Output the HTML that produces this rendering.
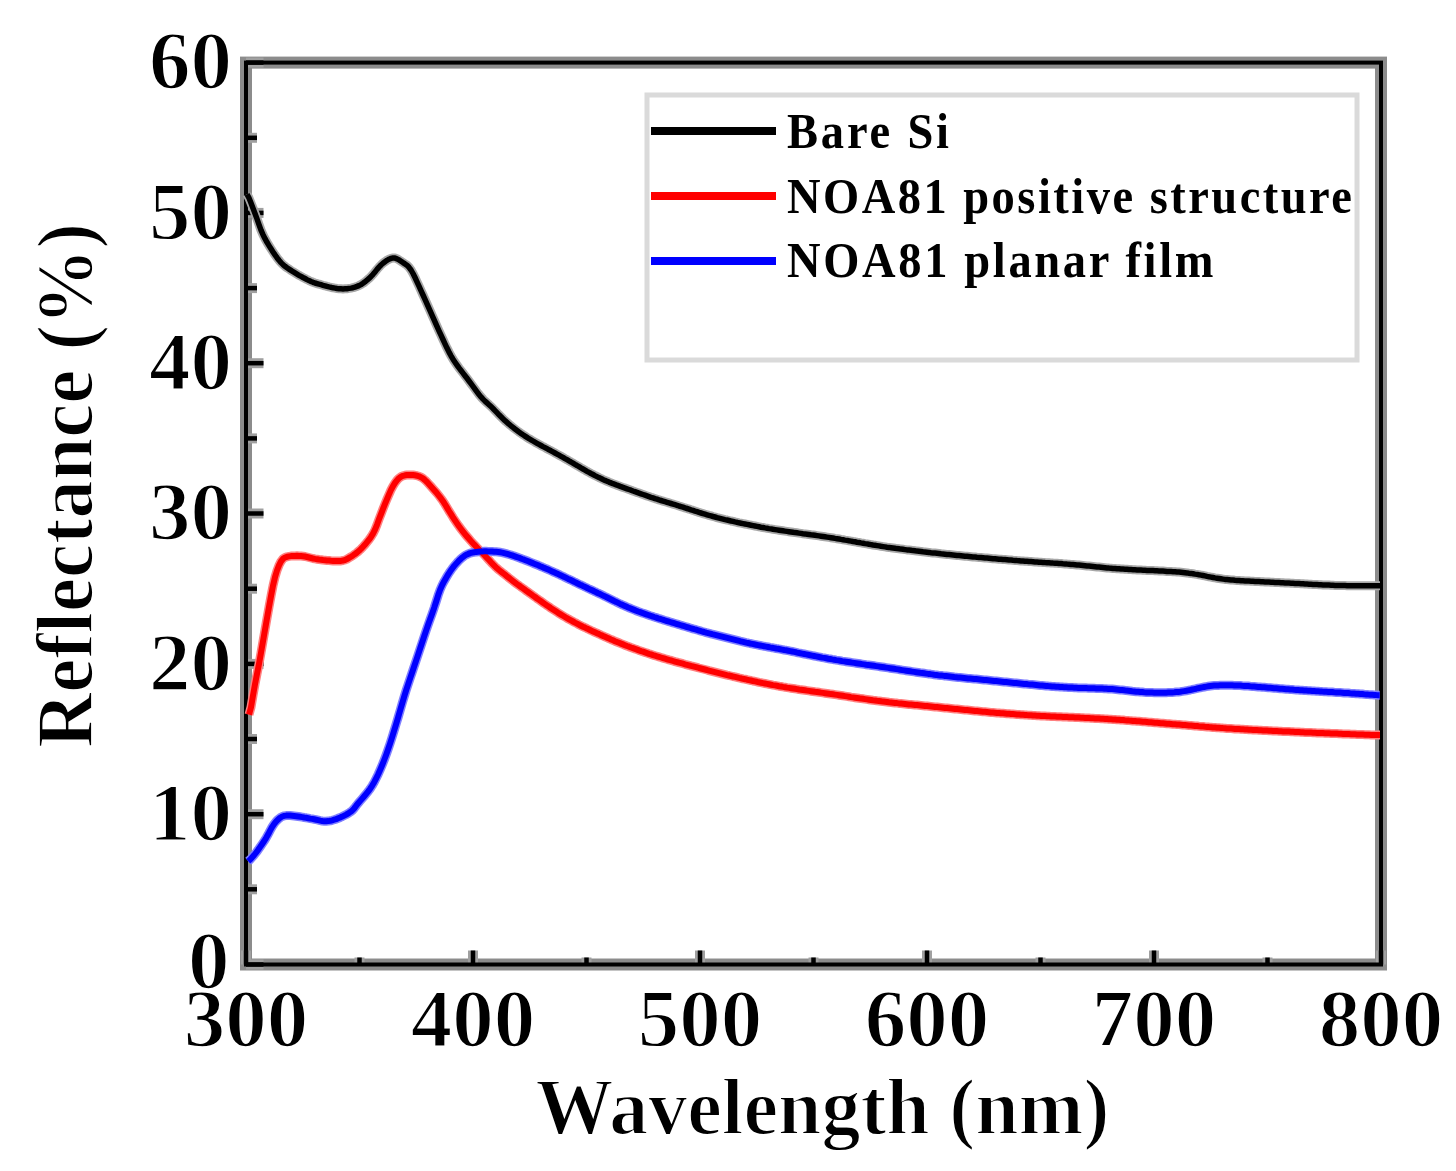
<!DOCTYPE html>
<html><head><meta charset="utf-8"><style>
html,body{margin:0;padding:0;background:#fff;}
body{width:1456px;height:1171px;overflow:hidden;}
svg{display:block;}
text{font-family:"Liberation Serif",serif;font-weight:bold;fill:#000;font-variant-ligatures:none;}
.lg text{font-weight:normal;}
</style></head><body>
<svg width="1456" height="1171" viewBox="0 0 1456 1171">
<rect x="0" y="0" width="1456" height="1171" fill="#fff"/>
<g fill="none" stroke="#8c8c8c" stroke-width="12" stroke-linecap="square"><rect x="246.0" y="62.6" width="1135.0" height="901.9"/></g>
<g stroke="#a0a0a0" stroke-width="10"><line x1="246.0" y1="964.5" x2="246.0" y2="950.5"/><line x1="359.5" y1="964.5" x2="359.5" y2="957.5"/><line x1="473.0" y1="964.5" x2="473.0" y2="950.5"/><line x1="586.5" y1="964.5" x2="586.5" y2="957.5"/><line x1="700.0" y1="964.5" x2="700.0" y2="950.5"/><line x1="813.5" y1="964.5" x2="813.5" y2="957.5"/><line x1="927.0" y1="964.5" x2="927.0" y2="950.5"/><line x1="1040.5" y1="964.5" x2="1040.5" y2="957.5"/><line x1="1154.0" y1="964.5" x2="1154.0" y2="950.5"/><line x1="1267.5" y1="964.5" x2="1267.5" y2="957.5"/><line x1="1381.0" y1="964.5" x2="1381.0" y2="950.5"/><line x1="246.0" y1="964.5" x2="263.5" y2="964.5"/><line x1="246.0" y1="889.3" x2="257.0" y2="889.3"/><line x1="246.0" y1="814.2" x2="263.5" y2="814.2"/><line x1="246.0" y1="739.0" x2="257.0" y2="739.0"/><line x1="246.0" y1="663.9" x2="263.5" y2="663.9"/><line x1="246.0" y1="588.7" x2="257.0" y2="588.7"/><line x1="246.0" y1="513.5" x2="263.5" y2="513.5"/><line x1="246.0" y1="438.4" x2="257.0" y2="438.4"/><line x1="246.0" y1="363.2" x2="263.5" y2="363.2"/><line x1="246.0" y1="288.1" x2="257.0" y2="288.1"/><line x1="246.0" y1="212.9" x2="263.5" y2="212.9"/><line x1="246.0" y1="137.8" x2="257.0" y2="137.8"/><line x1="246.0" y1="62.6" x2="263.5" y2="62.6"/></g>

<g fill="none" stroke="#000" stroke-width="4" stroke-linecap="square"><rect x="246.0" y="62.6" width="1135.0" height="901.9"/></g>
<g stroke="#000" stroke-width="4.5"><line x1="246.0" y1="964.5" x2="246.0" y2="950.5"/><line x1="359.5" y1="964.5" x2="359.5" y2="957.5"/><line x1="473.0" y1="964.5" x2="473.0" y2="950.5"/><line x1="586.5" y1="964.5" x2="586.5" y2="957.5"/><line x1="700.0" y1="964.5" x2="700.0" y2="950.5"/><line x1="813.5" y1="964.5" x2="813.5" y2="957.5"/><line x1="927.0" y1="964.5" x2="927.0" y2="950.5"/><line x1="1040.5" y1="964.5" x2="1040.5" y2="957.5"/><line x1="1154.0" y1="964.5" x2="1154.0" y2="950.5"/><line x1="1267.5" y1="964.5" x2="1267.5" y2="957.5"/><line x1="1381.0" y1="964.5" x2="1381.0" y2="950.5"/><line x1="246.0" y1="964.5" x2="263.5" y2="964.5"/><line x1="246.0" y1="889.3" x2="257.0" y2="889.3"/><line x1="246.0" y1="814.2" x2="263.5" y2="814.2"/><line x1="246.0" y1="739.0" x2="257.0" y2="739.0"/><line x1="246.0" y1="663.9" x2="263.5" y2="663.9"/><line x1="246.0" y1="588.7" x2="257.0" y2="588.7"/><line x1="246.0" y1="513.5" x2="263.5" y2="513.5"/><line x1="246.0" y1="438.4" x2="257.0" y2="438.4"/><line x1="246.0" y1="363.2" x2="263.5" y2="363.2"/><line x1="246.0" y1="288.1" x2="257.0" y2="288.1"/><line x1="246.0" y1="212.9" x2="263.5" y2="212.9"/><line x1="246.0" y1="137.8" x2="257.0" y2="137.8"/><line x1="246.0" y1="62.6" x2="263.5" y2="62.6"/></g>
<g fill="none" stroke-linejoin="round" stroke-linecap="butt">
<path stroke="#a8a8a8" stroke-width="9" d="M247.0 194.2 L249.0 198.1 L251.0 203.1 L253.0 208.2 L255.0 213.4 L257.0 218.9 L259.0 224.6 L261.0 230.1 L263.0 234.7 L265.0 238.7 L267.0 242.3 L269.0 245.6 L271.0 248.8 L273.0 251.9 L275.0 254.9 L277.0 257.7 L279.0 260.3 L281.0 262.6 L283.0 264.6 L285.0 266.3 L287.0 267.8 L289.0 269.1 L291.0 270.4 L293.0 271.7 L295.0 272.9 L297.0 274.1 L299.0 275.3 L301.0 276.4 L303.0 277.5 L305.0 278.5 L307.0 279.6 L309.0 280.6 L311.0 281.5 L313.0 282.3 L315.0 283.0 L317.0 283.6 L319.0 284.2 L321.0 284.7 L323.0 285.3 L325.0 285.8 L327.0 286.4 L329.0 286.9 L331.0 287.3 L333.0 287.8 L335.0 288.1 L337.0 288.5 L339.0 288.7 L341.0 288.8 L343.0 288.9 L345.0 288.8 L347.0 288.7 L349.0 288.4 L351.0 288.1 L353.0 287.7 L355.0 287.1 L357.0 286.4 L359.0 285.6 L361.0 284.6 L363.0 283.3 L365.0 281.8 L367.0 280.2 L369.0 278.4 L371.0 276.5 L373.0 274.3 L375.0 271.9 L377.0 269.4 L379.0 267.1 L381.0 265.0 L383.0 263.2 L385.0 261.7 L387.0 260.3 L389.0 259.2 L391.0 258.4 L393.0 258.0 L395.0 258.1 L397.0 258.8 L399.0 259.9 L401.0 261.2 L403.0 262.6 L405.0 263.9 L407.0 265.3 L409.0 267.3 L411.0 270.0 L413.0 273.5 L415.0 277.5 L417.0 281.8 L419.0 286.2 L421.0 290.7 L423.0 295.0 L425.0 299.4 L427.0 303.9 L429.0 308.4 L431.0 312.8 L433.0 317.3 L435.0 321.8 L437.0 326.4 L439.0 330.8 L441.0 335.2 L443.0 339.5 L445.0 343.8 L447.0 348.1 L449.0 352.1 L451.0 355.8 L453.0 359.2 L455.0 362.2 L457.0 365.1 L459.0 367.9 L461.0 370.5 L463.0 373.1 L465.0 375.7 L467.0 378.3 L469.0 381.0 L471.0 383.7 L473.0 386.4 L475.0 389.2 L477.0 391.9 L479.0 394.5 L481.0 396.9 L483.0 399.1 L485.0 401.1 L487.0 402.9 L489.0 404.7 L491.0 406.6 L493.0 408.5 L495.0 410.6 L497.0 412.7 L499.0 414.8 L501.0 416.8 L503.0 418.8 L505.0 420.7 L507.0 422.4 L509.0 424.2 L511.0 425.8 L513.0 427.4 L515.0 429.0 L517.0 430.5 L519.0 432.0 L521.0 433.4 L523.0 434.8 L525.0 436.1 L527.0 437.4 L529.0 438.7 L531.0 439.8 L533.0 441.0 L535.0 442.2 L537.0 443.3 L539.0 444.4 L541.0 445.5 L543.0 446.6 L545.0 447.6 L547.0 448.7 L549.0 449.8 L551.0 450.8 L553.0 451.9 L555.0 453.0 L557.0 454.1 L559.0 455.2 L561.0 456.3 L563.0 457.4 L565.0 458.6 L567.0 459.7 L569.0 460.9 L571.0 462.0 L573.0 463.2 L575.0 464.4 L577.0 465.5 L579.0 466.7 L581.0 467.9 L583.0 469.0 L585.0 470.1 L587.0 471.3 L589.0 472.4 L591.0 473.5 L593.0 474.5 L595.0 475.6 L597.0 476.6 L599.0 477.6 L601.0 478.5 L603.0 479.5 L605.0 480.4 L607.0 481.2 L609.0 482.1 L611.0 482.9 L613.0 483.7 L615.0 484.4 L617.0 485.2 L619.0 485.9 L621.0 486.7 L623.0 487.4 L625.0 488.1 L627.0 488.8 L629.0 489.5 L631.0 490.2 L633.0 491.0 L635.0 491.7 L637.0 492.4 L639.0 493.1 L641.0 493.8 L643.0 494.5 L645.0 495.2 L647.0 495.9 L649.0 496.6 L651.0 497.3 L653.0 497.9 L655.0 498.6 L657.0 499.2 L659.0 499.9 L661.0 500.5 L663.0 501.1 L665.0 501.7 L667.0 502.3 L669.0 502.9 L671.0 503.5 L673.0 504.1 L675.0 504.7 L677.0 505.3 L679.0 506.0 L681.0 506.6 L683.0 507.2 L685.0 507.9 L687.0 508.5 L689.0 509.1 L691.0 509.8 L693.0 510.4 L695.0 511.1 L697.0 511.7 L699.0 512.4 L701.0 513.0 L703.0 513.6 L705.0 514.2 L707.0 514.8 L709.0 515.4 L711.0 515.9 L713.0 516.5 L715.0 517.0 L717.0 517.6 L719.0 518.1 L721.0 518.6 L723.0 519.1 L725.0 519.6 L727.0 520.0 L729.0 520.5 L731.0 521.0 L733.0 521.4 L735.0 521.9 L737.0 522.3 L739.0 522.8 L741.0 523.2 L743.0 523.6 L745.0 524.0 L747.0 524.4 L749.0 524.8 L751.0 525.2 L753.0 525.6 L755.0 526.0 L757.0 526.4 L759.0 526.8 L761.0 527.2 L763.0 527.5 L765.0 527.9 L767.0 528.2 L769.0 528.6 L771.0 528.9 L773.0 529.3 L775.0 529.6 L777.0 529.9 L779.0 530.2 L781.0 530.5 L783.0 530.8 L785.0 531.1 L787.0 531.4 L789.0 531.7 L791.0 532.0 L793.0 532.3 L795.0 532.6 L797.0 532.8 L799.0 533.1 L801.0 533.4 L803.0 533.7 L805.0 533.9 L807.0 534.2 L809.0 534.5 L811.0 534.8 L813.0 535.0 L815.0 535.3 L817.0 535.6 L819.0 535.9 L821.0 536.2 L823.0 536.5 L825.0 536.8 L827.0 537.1 L829.0 537.4 L831.0 537.7 L833.0 538.0 L835.0 538.4 L837.0 538.7 L839.0 539.0 L841.0 539.4 L843.0 539.7 L845.0 540.1 L847.0 540.4 L849.0 540.8 L851.0 541.1 L853.0 541.5 L855.0 541.8 L857.0 542.2 L859.0 542.5 L861.0 542.9 L863.0 543.2 L865.0 543.6 L867.0 543.9 L869.0 544.3 L871.0 544.6 L873.0 545.0 L875.0 545.3 L877.0 545.6 L879.0 545.9 L881.0 546.3 L883.0 546.6 L885.0 546.9 L887.0 547.2 L889.0 547.4 L891.0 547.7 L893.0 548.0 L895.0 548.3 L897.0 548.6 L899.0 548.8 L901.0 549.1 L903.0 549.3 L905.0 549.6 L907.0 549.9 L909.0 550.1 L911.0 550.3 L913.0 550.6 L915.0 550.8 L917.0 551.1 L919.0 551.3 L921.0 551.5 L923.0 551.8 L925.0 552.0 L927.0 552.2 L929.0 552.4 L931.0 552.7 L933.0 552.9 L935.0 553.1 L937.0 553.3 L939.0 553.5 L941.0 553.8 L943.0 554.0 L945.0 554.2 L947.0 554.4 L949.0 554.6 L951.0 554.8 L953.0 555.0 L955.0 555.2 L957.0 555.4 L959.0 555.6 L961.0 555.8 L963.0 556.0 L965.0 556.2 L967.0 556.3 L969.0 556.5 L971.0 556.7 L973.0 556.9 L975.0 557.1 L977.0 557.3 L979.0 557.4 L981.0 557.6 L983.0 557.8 L985.0 558.0 L987.0 558.1 L989.0 558.3 L991.0 558.5 L993.0 558.7 L995.0 558.8 L997.0 559.0 L999.0 559.2 L1001.0 559.3 L1003.0 559.5 L1005.0 559.6 L1007.0 559.8 L1009.0 560.0 L1011.0 560.1 L1013.0 560.3 L1015.0 560.4 L1017.0 560.6 L1019.0 560.7 L1021.0 560.9 L1023.0 561.0 L1025.0 561.2 L1027.0 561.3 L1029.0 561.5 L1031.0 561.6 L1033.0 561.7 L1035.0 561.9 L1037.0 562.0 L1039.0 562.2 L1041.0 562.3 L1043.0 562.4 L1045.0 562.6 L1047.0 562.7 L1049.0 562.8 L1051.0 562.9 L1053.0 563.1 L1055.0 563.2 L1057.0 563.3 L1059.0 563.5 L1061.0 563.6 L1063.0 563.8 L1065.0 563.9 L1067.0 564.1 L1069.0 564.2 L1071.0 564.4 L1073.0 564.6 L1075.0 564.8 L1077.0 565.0 L1079.0 565.1 L1081.0 565.3 L1083.0 565.5 L1085.0 565.7 L1087.0 565.9 L1089.0 566.1 L1091.0 566.3 L1093.0 566.5 L1095.0 566.7 L1097.0 566.9 L1099.0 567.1 L1101.0 567.3 L1103.0 567.5 L1105.0 567.7 L1107.0 567.9 L1109.0 568.1 L1111.0 568.2 L1113.0 568.4 L1115.0 568.5 L1117.0 568.7 L1119.0 568.8 L1121.0 569.0 L1123.0 569.1 L1125.0 569.2 L1127.0 569.3 L1129.0 569.5 L1131.0 569.6 L1133.0 569.7 L1135.0 569.8 L1137.0 569.9 L1139.0 570.0 L1141.0 570.1 L1143.0 570.2 L1145.0 570.3 L1147.0 570.4 L1149.0 570.4 L1151.0 570.5 L1153.0 570.6 L1155.0 570.7 L1157.0 570.8 L1159.0 570.9 L1161.0 571.0 L1163.0 571.1 L1165.0 571.2 L1167.0 571.4 L1169.0 571.5 L1171.0 571.6 L1173.0 571.7 L1175.0 571.8 L1177.0 572.0 L1179.0 572.1 L1181.0 572.3 L1183.0 572.5 L1185.0 572.7 L1187.0 572.9 L1189.0 573.2 L1191.0 573.4 L1193.0 573.7 L1195.0 574.1 L1197.0 574.4 L1199.0 574.8 L1201.0 575.1 L1203.0 575.5 L1205.0 575.9 L1207.0 576.4 L1209.0 576.8 L1211.0 577.1 L1213.0 577.5 L1215.0 577.9 L1217.0 578.2 L1219.0 578.5 L1221.0 578.8 L1223.0 579.1 L1225.0 579.4 L1227.0 579.6 L1229.0 579.8 L1231.0 580.0 L1233.0 580.1 L1235.0 580.3 L1237.0 580.4 L1239.0 580.5 L1241.0 580.7 L1243.0 580.8 L1245.0 580.9 L1247.0 581.0 L1249.0 581.1 L1251.0 581.2 L1253.0 581.3 L1255.0 581.4 L1257.0 581.5 L1259.0 581.6 L1261.0 581.7 L1263.0 581.8 L1265.0 581.9 L1267.0 582.0 L1269.0 582.1 L1271.0 582.2 L1273.0 582.3 L1275.0 582.4 L1277.0 582.5 L1279.0 582.6 L1281.0 582.7 L1283.0 582.8 L1285.0 582.9 L1287.0 583.0 L1289.0 583.1 L1291.0 583.2 L1293.0 583.3 L1295.0 583.4 L1297.0 583.5 L1299.0 583.6 L1301.0 583.7 L1303.0 583.8 L1305.0 584.0 L1307.0 584.1 L1309.0 584.2 L1311.0 584.3 L1313.0 584.4 L1315.0 584.5 L1317.0 584.6 L1319.0 584.7 L1321.0 584.8 L1323.0 584.9 L1325.0 585.0 L1327.0 585.0 L1329.0 585.1 L1331.0 585.2 L1333.0 585.3 L1335.0 585.4 L1337.0 585.4 L1339.0 585.5 L1341.0 585.5 L1343.0 585.6 L1345.0 585.6 L1347.0 585.7 L1349.0 585.7 L1351.0 585.7 L1353.0 585.8 L1355.0 585.8 L1357.0 585.8 L1359.0 585.8 L1361.0 585.8 L1363.0 585.8 L1365.0 585.8 L1367.0 585.8 L1369.0 585.8 L1371.0 585.8 L1373.0 585.8 L1375.0 585.8 L1377.0 585.7 L1379.0 585.7 L1380.0 585.7"/>
<path stroke="#ff8080" stroke-width="9" d="M249.0 714.6 L251.0 707.3 L253.0 695.6 L255.0 684.2 L257.0 674.0 L259.0 663.8 L261.0 652.8 L263.0 641.3 L265.0 629.7 L267.0 618.3 L269.0 607.0 L271.0 596.1 L273.0 585.8 L275.0 577.2 L277.0 570.5 L279.0 565.3 L281.0 561.4 L283.0 558.8 L285.0 557.5 L287.0 556.8 L289.0 556.4 L291.0 556.1 L293.0 555.9 L295.0 555.9 L297.0 555.8 L299.0 555.9 L301.0 556.0 L303.0 556.2 L305.0 556.5 L307.0 557.0 L309.0 557.5 L311.0 558.0 L313.0 558.5 L315.0 558.9 L317.0 559.2 L319.0 559.5 L321.0 559.7 L323.0 560.0 L325.0 560.2 L327.0 560.4 L329.0 560.6 L331.0 560.8 L333.0 560.9 L335.0 561.0 L337.0 561.1 L339.0 561.0 L341.0 560.9 L343.0 560.5 L345.0 560.0 L347.0 559.1 L349.0 557.9 L351.0 556.7 L353.0 555.4 L355.0 554.0 L357.0 552.5 L359.0 550.8 L361.0 548.9 L363.0 546.8 L365.0 544.6 L367.0 542.2 L369.0 539.7 L371.0 536.9 L373.0 533.7 L375.0 529.7 L377.0 524.8 L379.0 519.3 L381.0 514.1 L383.0 508.9 L385.0 503.9 L387.0 499.1 L389.0 494.4 L391.0 489.9 L393.0 486.1 L395.0 482.9 L397.0 480.2 L399.0 478.1 L401.0 476.7 L403.0 475.8 L405.0 475.3 L407.0 475.0 L409.0 474.9 L411.0 475.0 L413.0 475.1 L415.0 475.3 L417.0 475.7 L419.0 476.3 L421.0 477.2 L423.0 478.4 L425.0 480.1 L427.0 482.0 L429.0 484.2 L431.0 486.4 L433.0 488.7 L435.0 491.0 L437.0 493.3 L439.0 495.8 L441.0 498.4 L443.0 501.2 L445.0 504.3 L447.0 507.6 L449.0 511.0 L451.0 514.2 L453.0 517.4 L455.0 520.4 L457.0 523.4 L459.0 526.3 L461.0 529.0 L463.0 531.6 L465.0 534.1 L467.0 536.5 L469.0 538.8 L471.0 541.1 L473.0 543.3 L475.0 545.4 L477.0 547.5 L479.0 549.6 L481.0 551.6 L483.0 553.6 L485.0 555.7 L487.0 557.9 L489.0 560.1 L491.0 562.3 L493.0 564.4 L495.0 566.4 L497.0 568.3 L499.0 570.0 L501.0 571.6 L503.0 573.2 L505.0 574.7 L507.0 576.3 L509.0 577.9 L511.0 579.5 L513.0 581.1 L515.0 582.6 L517.0 584.1 L519.0 585.5 L521.0 587.0 L523.0 588.4 L525.0 589.8 L527.0 591.3 L529.0 592.7 L531.0 594.1 L533.0 595.6 L535.0 597.0 L537.0 598.5 L539.0 599.9 L541.0 601.3 L543.0 602.7 L545.0 604.1 L547.0 605.5 L549.0 606.8 L551.0 608.2 L553.0 609.5 L555.0 610.8 L557.0 612.1 L559.0 613.4 L561.0 614.6 L563.0 615.8 L565.0 617.0 L567.0 618.2 L569.0 619.3 L571.0 620.4 L573.0 621.5 L575.0 622.6 L577.0 623.6 L579.0 624.7 L581.0 625.7 L583.0 626.7 L585.0 627.6 L587.0 628.6 L589.0 629.5 L591.0 630.5 L593.0 631.4 L595.0 632.3 L597.0 633.2 L599.0 634.1 L601.0 635.1 L603.0 635.9 L605.0 636.8 L607.0 637.7 L609.0 638.6 L611.0 639.5 L613.0 640.3 L615.0 641.2 L617.0 642.0 L619.0 642.8 L621.0 643.6 L623.0 644.4 L625.0 645.2 L627.0 646.0 L629.0 646.7 L631.0 647.5 L633.0 648.2 L635.0 648.9 L637.0 649.6 L639.0 650.4 L641.0 651.1 L643.0 651.7 L645.0 652.4 L647.0 653.1 L649.0 653.8 L651.0 654.4 L653.0 655.1 L655.0 655.7 L657.0 656.3 L659.0 656.9 L661.0 657.5 L663.0 658.1 L665.0 658.7 L667.0 659.3 L669.0 659.9 L671.0 660.4 L673.0 661.0 L675.0 661.6 L677.0 662.1 L679.0 662.7 L681.0 663.2 L683.0 663.7 L685.0 664.3 L687.0 664.8 L689.0 665.3 L691.0 665.9 L693.0 666.4 L695.0 666.9 L697.0 667.4 L699.0 668.0 L701.0 668.5 L703.0 669.0 L705.0 669.5 L707.0 670.0 L709.0 670.6 L711.0 671.1 L713.0 671.6 L715.0 672.1 L717.0 672.6 L719.0 673.1 L721.0 673.6 L723.0 674.1 L725.0 674.6 L727.0 675.1 L729.0 675.5 L731.0 676.0 L733.0 676.5 L735.0 676.9 L737.0 677.4 L739.0 677.9 L741.0 678.3 L743.0 678.8 L745.0 679.2 L747.0 679.7 L749.0 680.1 L751.0 680.5 L753.0 681.0 L755.0 681.4 L757.0 681.8 L759.0 682.3 L761.0 682.7 L763.0 683.1 L765.0 683.5 L767.0 683.9 L769.0 684.3 L771.0 684.7 L773.0 685.1 L775.0 685.4 L777.0 685.8 L779.0 686.2 L781.0 686.5 L783.0 686.9 L785.0 687.2 L787.0 687.6 L789.0 687.9 L791.0 688.2 L793.0 688.5 L795.0 688.8 L797.0 689.1 L799.0 689.5 L801.0 689.7 L803.0 690.0 L805.0 690.3 L807.0 690.6 L809.0 690.9 L811.0 691.2 L813.0 691.5 L815.0 691.8 L817.0 692.0 L819.0 692.3 L821.0 692.6 L823.0 692.9 L825.0 693.2 L827.0 693.5 L829.0 693.8 L831.0 694.1 L833.0 694.3 L835.0 694.6 L837.0 694.9 L839.0 695.2 L841.0 695.5 L843.0 695.8 L845.0 696.1 L847.0 696.4 L849.0 696.7 L851.0 697.1 L853.0 697.4 L855.0 697.7 L857.0 698.0 L859.0 698.3 L861.0 698.6 L863.0 698.8 L865.0 699.1 L867.0 699.4 L869.0 699.7 L871.0 700.0 L873.0 700.3 L875.0 700.5 L877.0 700.8 L879.0 701.0 L881.0 701.3 L883.0 701.6 L885.0 701.8 L887.0 702.0 L889.0 702.3 L891.0 702.5 L893.0 702.7 L895.0 702.9 L897.0 703.1 L899.0 703.4 L901.0 703.6 L903.0 703.8 L905.0 704.0 L907.0 704.2 L909.0 704.4 L911.0 704.5 L913.0 704.7 L915.0 704.9 L917.0 705.1 L919.0 705.3 L921.0 705.5 L923.0 705.7 L925.0 705.9 L927.0 706.1 L929.0 706.3 L931.0 706.5 L933.0 706.7 L935.0 706.9 L937.0 707.1 L939.0 707.3 L941.0 707.5 L943.0 707.7 L945.0 707.9 L947.0 708.1 L949.0 708.3 L951.0 708.5 L953.0 708.7 L955.0 708.9 L957.0 709.1 L959.0 709.3 L961.0 709.5 L963.0 709.7 L965.0 709.9 L967.0 710.1 L969.0 710.3 L971.0 710.5 L973.0 710.7 L975.0 710.9 L977.0 711.1 L979.0 711.3 L981.0 711.5 L983.0 711.7 L985.0 711.8 L987.0 712.0 L989.0 712.2 L991.0 712.4 L993.0 712.5 L995.0 712.7 L997.0 712.9 L999.0 713.0 L1001.0 713.2 L1003.0 713.3 L1005.0 713.5 L1007.0 713.7 L1009.0 713.8 L1011.0 714.0 L1013.0 714.1 L1015.0 714.2 L1017.0 714.4 L1019.0 714.5 L1021.0 714.7 L1023.0 714.8 L1025.0 714.9 L1027.0 715.1 L1029.0 715.2 L1031.0 715.3 L1033.0 715.5 L1035.0 715.6 L1037.0 715.7 L1039.0 715.8 L1041.0 715.9 L1043.0 716.0 L1045.0 716.1 L1047.0 716.2 L1049.0 716.3 L1051.0 716.4 L1053.0 716.5 L1055.0 716.6 L1057.0 716.7 L1059.0 716.7 L1061.0 716.8 L1063.0 716.9 L1065.0 717.0 L1067.0 717.1 L1069.0 717.2 L1071.0 717.3 L1073.0 717.3 L1075.0 717.4 L1077.0 717.5 L1079.0 717.6 L1081.0 717.7 L1083.0 717.8 L1085.0 717.9 L1087.0 718.0 L1089.0 718.1 L1091.0 718.2 L1093.0 718.3 L1095.0 718.4 L1097.0 718.5 L1099.0 718.6 L1101.0 718.7 L1103.0 718.8 L1105.0 718.9 L1107.0 719.0 L1109.0 719.2 L1111.0 719.3 L1113.0 719.4 L1115.0 719.5 L1117.0 719.7 L1119.0 719.8 L1121.0 720.0 L1123.0 720.1 L1125.0 720.3 L1127.0 720.4 L1129.0 720.6 L1131.0 720.7 L1133.0 720.9 L1135.0 721.0 L1137.0 721.2 L1139.0 721.3 L1141.0 721.5 L1143.0 721.7 L1145.0 721.8 L1147.0 722.0 L1149.0 722.2 L1151.0 722.3 L1153.0 722.5 L1155.0 722.7 L1157.0 722.8 L1159.0 723.0 L1161.0 723.2 L1163.0 723.3 L1165.0 723.5 L1167.0 723.7 L1169.0 723.8 L1171.0 724.0 L1173.0 724.2 L1175.0 724.3 L1177.0 724.5 L1179.0 724.6 L1181.0 724.8 L1183.0 725.0 L1185.0 725.1 L1187.0 725.3 L1189.0 725.5 L1191.0 725.6 L1193.0 725.8 L1195.0 726.0 L1197.0 726.1 L1199.0 726.3 L1201.0 726.4 L1203.0 726.6 L1205.0 726.8 L1207.0 726.9 L1209.0 727.1 L1211.0 727.2 L1213.0 727.4 L1215.0 727.5 L1217.0 727.7 L1219.0 727.8 L1221.0 727.9 L1223.0 728.1 L1225.0 728.2 L1227.0 728.4 L1229.0 728.5 L1231.0 728.6 L1233.0 728.7 L1235.0 728.9 L1237.0 729.0 L1239.0 729.1 L1241.0 729.2 L1243.0 729.3 L1245.0 729.4 L1247.0 729.5 L1249.0 729.7 L1251.0 729.8 L1253.0 729.9 L1255.0 730.0 L1257.0 730.1 L1259.0 730.2 L1261.0 730.3 L1263.0 730.4 L1265.0 730.5 L1267.0 730.6 L1269.0 730.7 L1271.0 730.8 L1273.0 730.9 L1275.0 731.0 L1277.0 731.1 L1279.0 731.2 L1281.0 731.3 L1283.0 731.4 L1285.0 731.5 L1287.0 731.6 L1289.0 731.6 L1291.0 731.7 L1293.0 731.8 L1295.0 731.9 L1297.0 732.0 L1299.0 732.1 L1301.0 732.2 L1303.0 732.3 L1305.0 732.4 L1307.0 732.4 L1309.0 732.5 L1311.0 732.6 L1313.0 732.7 L1315.0 732.8 L1317.0 732.9 L1319.0 732.9 L1321.0 733.0 L1323.0 733.1 L1325.0 733.2 L1327.0 733.3 L1329.0 733.3 L1331.0 733.4 L1333.0 733.5 L1335.0 733.6 L1337.0 733.6 L1339.0 733.7 L1341.0 733.8 L1343.0 733.9 L1345.0 734.0 L1347.0 734.0 L1349.0 734.1 L1351.0 734.2 L1353.0 734.3 L1355.0 734.3 L1357.0 734.4 L1359.0 734.5 L1361.0 734.6 L1363.0 734.6 L1365.0 734.7 L1367.0 734.8 L1369.0 734.8 L1371.0 734.9 L1373.0 735.0 L1375.0 735.0 L1377.0 735.1 L1379.0 735.1 L1380.0 735.1"/>
<path stroke="#8080ff" stroke-width="9" d="M248.2 861.2 L250.2 859.5 L252.2 857.3 L254.2 855.0 L256.2 852.5 L258.2 849.8 L260.2 846.9 L262.2 844.0 L264.2 841.0 L266.2 837.8 L268.2 834.3 L270.2 830.4 L272.2 826.8 L274.2 823.8 L276.2 821.3 L278.2 819.3 L280.2 817.7 L282.2 816.5 L284.2 815.9 L286.2 815.6 L288.2 815.5 L290.2 815.6 L292.2 815.8 L294.2 816.0 L296.2 816.2 L298.2 816.5 L300.2 816.8 L302.2 817.1 L304.2 817.5 L306.2 817.8 L308.2 818.2 L310.2 818.6 L312.2 818.9 L314.2 819.3 L316.2 819.7 L318.2 820.1 L320.2 820.6 L322.2 821.0 L324.2 821.2 L326.2 821.3 L328.2 821.1 L330.2 820.8 L332.2 820.3 L334.2 819.7 L336.2 819.1 L338.2 818.3 L340.2 817.5 L342.2 816.6 L344.2 815.6 L346.2 814.6 L348.2 813.4 L350.2 812.1 L352.2 810.6 L354.2 808.4 L356.2 805.7 L358.2 803.2 L360.2 800.9 L362.2 798.6 L364.2 796.3 L366.2 793.9 L368.2 791.4 L370.2 788.7 L372.2 785.6 L374.2 782.2 L376.2 778.3 L378.2 774.2 L380.2 769.7 L382.2 765.0 L384.2 760.0 L386.2 754.7 L388.2 749.1 L390.2 743.1 L392.2 736.8 L394.2 730.4 L396.2 723.8 L398.2 717.1 L400.2 710.2 L402.2 703.3 L404.2 696.6 L406.2 690.2 L408.2 684.1 L410.2 678.1 L412.2 672.2 L414.2 666.3 L416.2 660.4 L418.2 654.4 L420.2 648.3 L422.2 642.3 L424.2 636.3 L426.2 630.4 L428.2 624.6 L430.2 619.0 L432.2 613.4 L434.2 607.7 L436.2 601.5 L438.2 595.1 L440.2 589.5 L442.2 585.0 L444.2 581.2 L446.2 577.7 L448.2 574.4 L450.2 571.3 L452.2 568.5 L454.2 565.9 L456.2 563.6 L458.2 561.4 L460.2 559.4 L462.2 557.6 L464.2 556.1 L466.2 554.8 L468.2 553.9 L470.2 553.1 L472.2 552.6 L474.2 552.2 L476.2 551.9 L478.2 551.7 L480.2 551.5 L482.2 551.4 L484.2 551.3 L486.2 551.3 L488.2 551.4 L490.2 551.4 L492.2 551.5 L494.2 551.7 L496.2 551.8 L498.2 552.0 L500.2 552.3 L502.2 552.6 L504.2 553.1 L506.2 553.6 L508.2 554.2 L510.2 554.8 L512.2 555.4 L514.2 556.1 L516.2 556.8 L518.2 557.5 L520.2 558.2 L522.2 559.0 L524.2 559.7 L526.2 560.5 L528.2 561.3 L530.2 562.1 L532.2 562.9 L534.2 563.7 L536.2 564.5 L538.2 565.3 L540.2 566.2 L542.2 567.0 L544.2 567.9 L546.2 568.7 L548.2 569.6 L550.2 570.5 L552.2 571.4 L554.2 572.3 L556.2 573.2 L558.2 574.1 L560.2 575.1 L562.2 576.0 L564.2 576.9 L566.2 577.9 L568.2 578.9 L570.2 579.8 L572.2 580.8 L574.2 581.8 L576.2 582.7 L578.2 583.7 L580.2 584.7 L582.2 585.6 L584.2 586.6 L586.2 587.5 L588.2 588.5 L590.2 589.4 L592.2 590.3 L594.2 591.3 L596.2 592.2 L598.2 593.2 L600.2 594.1 L602.2 595.1 L604.2 596.1 L606.2 597.0 L608.2 598.0 L610.2 599.0 L612.2 600.0 L614.2 601.0 L616.2 601.9 L618.2 602.9 L620.2 603.9 L622.2 604.8 L624.2 605.7 L626.2 606.6 L628.2 607.5 L630.2 608.3 L632.2 609.1 L634.2 609.9 L636.2 610.7 L638.2 611.5 L640.2 612.2 L642.2 612.9 L644.2 613.6 L646.2 614.3 L648.2 615.0 L650.2 615.7 L652.2 616.3 L654.2 617.0 L656.2 617.6 L658.2 618.3 L660.2 618.9 L662.2 619.5 L664.2 620.2 L666.2 620.8 L668.2 621.4 L670.2 622.0 L672.2 622.6 L674.2 623.2 L676.2 623.8 L678.2 624.4 L680.2 625.0 L682.2 625.6 L684.2 626.2 L686.2 626.8 L688.2 627.4 L690.2 628.0 L692.2 628.6 L694.2 629.2 L696.2 629.7 L698.2 630.3 L700.2 630.9 L702.2 631.5 L704.2 632.0 L706.2 632.6 L708.2 633.1 L710.2 633.6 L712.2 634.2 L714.2 634.7 L716.2 635.2 L718.2 635.7 L720.2 636.2 L722.2 636.7 L724.2 637.2 L726.2 637.7 L728.2 638.2 L730.2 638.7 L732.2 639.2 L734.2 639.7 L736.2 640.2 L738.2 640.7 L740.2 641.2 L742.2 641.6 L744.2 642.1 L746.2 642.6 L748.2 643.0 L750.2 643.5 L752.2 643.9 L754.2 644.3 L756.2 644.7 L758.2 645.1 L760.2 645.5 L762.2 645.9 L764.2 646.3 L766.2 646.6 L768.2 647.0 L770.2 647.4 L772.2 647.7 L774.2 648.1 L776.2 648.5 L778.2 648.8 L780.2 649.2 L782.2 649.6 L784.2 650.0 L786.2 650.3 L788.2 650.7 L790.2 651.1 L792.2 651.5 L794.2 651.9 L796.2 652.3 L798.2 652.8 L800.2 653.2 L802.2 653.6 L804.2 654.0 L806.2 654.4 L808.2 654.8 L810.2 655.2 L812.2 655.6 L814.2 656.0 L816.2 656.4 L818.2 656.8 L820.2 657.2 L822.2 657.6 L824.2 657.9 L826.2 658.3 L828.2 658.7 L830.2 659.0 L832.2 659.4 L834.2 659.7 L836.2 660.1 L838.2 660.4 L840.2 660.7 L842.2 661.1 L844.2 661.4 L846.2 661.7 L848.2 662.0 L850.2 662.3 L852.2 662.6 L854.2 662.9 L856.2 663.2 L858.2 663.5 L860.2 663.8 L862.2 664.1 L864.2 664.4 L866.2 664.7 L868.2 664.9 L870.2 665.2 L872.2 665.5 L874.2 665.8 L876.2 666.1 L878.2 666.4 L880.2 666.7 L882.2 667.0 L884.2 667.3 L886.2 667.6 L888.2 667.9 L890.2 668.2 L892.2 668.5 L894.2 668.8 L896.2 669.1 L898.2 669.4 L900.2 669.8 L902.2 670.1 L904.2 670.4 L906.2 670.7 L908.2 671.0 L910.2 671.3 L912.2 671.6 L914.2 671.9 L916.2 672.2 L918.2 672.5 L920.2 672.8 L922.2 673.0 L924.2 673.3 L926.2 673.6 L928.2 673.9 L930.2 674.1 L932.2 674.4 L934.2 674.7 L936.2 674.9 L938.2 675.2 L940.2 675.4 L942.2 675.6 L944.2 675.9 L946.2 676.1 L948.2 676.3 L950.2 676.5 L952.2 676.7 L954.2 677.0 L956.2 677.2 L958.2 677.4 L960.2 677.6 L962.2 677.8 L964.2 678.0 L966.2 678.2 L968.2 678.4 L970.2 678.6 L972.2 678.8 L974.2 679.0 L976.2 679.1 L978.2 679.3 L980.2 679.5 L982.2 679.7 L984.2 679.9 L986.2 680.1 L988.2 680.3 L990.2 680.5 L992.2 680.7 L994.2 680.9 L996.2 681.1 L998.2 681.3 L1000.2 681.5 L1002.2 681.7 L1004.2 681.9 L1006.2 682.1 L1008.2 682.3 L1010.2 682.5 L1012.2 682.7 L1014.2 682.9 L1016.2 683.1 L1018.2 683.3 L1020.2 683.5 L1022.2 683.7 L1024.2 683.9 L1026.2 684.1 L1028.2 684.3 L1030.2 684.4 L1032.2 684.6 L1034.2 684.8 L1036.2 685.0 L1038.2 685.2 L1040.2 685.4 L1042.2 685.5 L1044.2 685.7 L1046.2 685.9 L1048.2 686.1 L1050.2 686.2 L1052.2 686.4 L1054.2 686.5 L1056.2 686.7 L1058.2 686.8 L1060.2 687.0 L1062.2 687.1 L1064.2 687.2 L1066.2 687.3 L1068.2 687.4 L1070.2 687.5 L1072.2 687.6 L1074.2 687.7 L1076.2 687.8 L1078.2 687.9 L1080.2 687.9 L1082.2 688.0 L1084.2 688.0 L1086.2 688.1 L1088.2 688.2 L1090.2 688.2 L1092.2 688.3 L1094.2 688.3 L1096.2 688.4 L1098.2 688.4 L1100.2 688.5 L1102.2 688.6 L1104.2 688.7 L1106.2 688.8 L1108.2 688.9 L1110.2 689.0 L1112.2 689.1 L1114.2 689.3 L1116.2 689.5 L1118.2 689.7 L1120.2 689.9 L1122.2 690.1 L1124.2 690.3 L1126.2 690.6 L1128.2 690.8 L1130.2 691.0 L1132.2 691.3 L1134.2 691.5 L1136.2 691.7 L1138.2 691.8 L1140.2 692.0 L1142.2 692.1 L1144.2 692.3 L1146.2 692.4 L1148.2 692.5 L1150.2 692.6 L1152.2 692.6 L1154.2 692.7 L1156.2 692.7 L1158.2 692.7 L1160.2 692.7 L1162.2 692.7 L1164.2 692.7 L1166.2 692.7 L1168.2 692.6 L1170.2 692.5 L1172.2 692.4 L1174.2 692.3 L1176.2 692.1 L1178.2 691.9 L1180.2 691.7 L1182.2 691.4 L1184.2 691.1 L1186.2 690.8 L1188.2 690.4 L1190.2 690.0 L1192.2 689.5 L1194.2 689.1 L1196.2 688.7 L1198.2 688.2 L1200.2 687.8 L1202.2 687.4 L1204.2 687.0 L1206.2 686.6 L1208.2 686.3 L1210.2 686.0 L1212.2 685.8 L1214.2 685.6 L1216.2 685.5 L1218.2 685.4 L1220.2 685.3 L1222.2 685.2 L1224.2 685.2 L1226.2 685.2 L1228.2 685.2 L1230.2 685.3 L1232.2 685.3 L1234.2 685.4 L1236.2 685.5 L1238.2 685.5 L1240.2 685.6 L1242.2 685.8 L1244.2 685.9 L1246.2 686.0 L1248.2 686.1 L1250.2 686.3 L1252.2 686.4 L1254.2 686.5 L1256.2 686.7 L1258.2 686.9 L1260.2 687.0 L1262.2 687.2 L1264.2 687.3 L1266.2 687.5 L1268.2 687.7 L1270.2 687.8 L1272.2 688.0 L1274.2 688.2 L1276.2 688.3 L1278.2 688.5 L1280.2 688.7 L1282.2 688.8 L1284.2 689.0 L1286.2 689.2 L1288.2 689.3 L1290.2 689.5 L1292.2 689.6 L1294.2 689.8 L1296.2 689.9 L1298.2 690.0 L1300.2 690.2 L1302.2 690.3 L1304.2 690.5 L1306.2 690.6 L1308.2 690.7 L1310.2 690.8 L1312.2 691.0 L1314.2 691.1 L1316.2 691.2 L1318.2 691.3 L1320.2 691.4 L1322.2 691.6 L1324.2 691.7 L1326.2 691.8 L1328.2 691.9 L1330.2 692.0 L1332.2 692.1 L1334.2 692.3 L1336.2 692.4 L1338.2 692.5 L1340.2 692.6 L1342.2 692.7 L1344.2 692.9 L1346.2 693.0 L1348.2 693.1 L1350.2 693.3 L1352.2 693.4 L1354.2 693.5 L1356.2 693.7 L1358.2 693.8 L1360.2 694.0 L1362.2 694.1 L1364.2 694.3 L1366.2 694.4 L1368.2 694.6 L1370.2 694.7 L1372.2 694.8 L1374.2 694.9 L1376.2 695.1 L1378.2 695.2 L1379.7 695.2"/>
<path stroke="#000" stroke-width="5.5" d="M247.0 194.2 L249.0 198.1 L251.0 203.1 L253.0 208.2 L255.0 213.4 L257.0 218.9 L259.0 224.6 L261.0 230.1 L263.0 234.7 L265.0 238.7 L267.0 242.3 L269.0 245.6 L271.0 248.8 L273.0 251.9 L275.0 254.9 L277.0 257.7 L279.0 260.3 L281.0 262.6 L283.0 264.6 L285.0 266.3 L287.0 267.8 L289.0 269.1 L291.0 270.4 L293.0 271.7 L295.0 272.9 L297.0 274.1 L299.0 275.3 L301.0 276.4 L303.0 277.5 L305.0 278.5 L307.0 279.6 L309.0 280.6 L311.0 281.5 L313.0 282.3 L315.0 283.0 L317.0 283.6 L319.0 284.2 L321.0 284.7 L323.0 285.3 L325.0 285.8 L327.0 286.4 L329.0 286.9 L331.0 287.3 L333.0 287.8 L335.0 288.1 L337.0 288.5 L339.0 288.7 L341.0 288.8 L343.0 288.9 L345.0 288.8 L347.0 288.7 L349.0 288.4 L351.0 288.1 L353.0 287.7 L355.0 287.1 L357.0 286.4 L359.0 285.6 L361.0 284.6 L363.0 283.3 L365.0 281.8 L367.0 280.2 L369.0 278.4 L371.0 276.5 L373.0 274.3 L375.0 271.9 L377.0 269.4 L379.0 267.1 L381.0 265.0 L383.0 263.2 L385.0 261.7 L387.0 260.3 L389.0 259.2 L391.0 258.4 L393.0 258.0 L395.0 258.1 L397.0 258.8 L399.0 259.9 L401.0 261.2 L403.0 262.6 L405.0 263.9 L407.0 265.3 L409.0 267.3 L411.0 270.0 L413.0 273.5 L415.0 277.5 L417.0 281.8 L419.0 286.2 L421.0 290.7 L423.0 295.0 L425.0 299.4 L427.0 303.9 L429.0 308.4 L431.0 312.8 L433.0 317.3 L435.0 321.8 L437.0 326.4 L439.0 330.8 L441.0 335.2 L443.0 339.5 L445.0 343.8 L447.0 348.1 L449.0 352.1 L451.0 355.8 L453.0 359.2 L455.0 362.2 L457.0 365.1 L459.0 367.9 L461.0 370.5 L463.0 373.1 L465.0 375.7 L467.0 378.3 L469.0 381.0 L471.0 383.7 L473.0 386.4 L475.0 389.2 L477.0 391.9 L479.0 394.5 L481.0 396.9 L483.0 399.1 L485.0 401.1 L487.0 402.9 L489.0 404.7 L491.0 406.6 L493.0 408.5 L495.0 410.6 L497.0 412.7 L499.0 414.8 L501.0 416.8 L503.0 418.8 L505.0 420.7 L507.0 422.4 L509.0 424.2 L511.0 425.8 L513.0 427.4 L515.0 429.0 L517.0 430.5 L519.0 432.0 L521.0 433.4 L523.0 434.8 L525.0 436.1 L527.0 437.4 L529.0 438.7 L531.0 439.8 L533.0 441.0 L535.0 442.2 L537.0 443.3 L539.0 444.4 L541.0 445.5 L543.0 446.6 L545.0 447.6 L547.0 448.7 L549.0 449.8 L551.0 450.8 L553.0 451.9 L555.0 453.0 L557.0 454.1 L559.0 455.2 L561.0 456.3 L563.0 457.4 L565.0 458.6 L567.0 459.7 L569.0 460.9 L571.0 462.0 L573.0 463.2 L575.0 464.4 L577.0 465.5 L579.0 466.7 L581.0 467.9 L583.0 469.0 L585.0 470.1 L587.0 471.3 L589.0 472.4 L591.0 473.5 L593.0 474.5 L595.0 475.6 L597.0 476.6 L599.0 477.6 L601.0 478.5 L603.0 479.5 L605.0 480.4 L607.0 481.2 L609.0 482.1 L611.0 482.9 L613.0 483.7 L615.0 484.4 L617.0 485.2 L619.0 485.9 L621.0 486.7 L623.0 487.4 L625.0 488.1 L627.0 488.8 L629.0 489.5 L631.0 490.2 L633.0 491.0 L635.0 491.7 L637.0 492.4 L639.0 493.1 L641.0 493.8 L643.0 494.5 L645.0 495.2 L647.0 495.9 L649.0 496.6 L651.0 497.3 L653.0 497.9 L655.0 498.6 L657.0 499.2 L659.0 499.9 L661.0 500.5 L663.0 501.1 L665.0 501.7 L667.0 502.3 L669.0 502.9 L671.0 503.5 L673.0 504.1 L675.0 504.7 L677.0 505.3 L679.0 506.0 L681.0 506.6 L683.0 507.2 L685.0 507.9 L687.0 508.5 L689.0 509.1 L691.0 509.8 L693.0 510.4 L695.0 511.1 L697.0 511.7 L699.0 512.4 L701.0 513.0 L703.0 513.6 L705.0 514.2 L707.0 514.8 L709.0 515.4 L711.0 515.9 L713.0 516.5 L715.0 517.0 L717.0 517.6 L719.0 518.1 L721.0 518.6 L723.0 519.1 L725.0 519.6 L727.0 520.0 L729.0 520.5 L731.0 521.0 L733.0 521.4 L735.0 521.9 L737.0 522.3 L739.0 522.8 L741.0 523.2 L743.0 523.6 L745.0 524.0 L747.0 524.4 L749.0 524.8 L751.0 525.2 L753.0 525.6 L755.0 526.0 L757.0 526.4 L759.0 526.8 L761.0 527.2 L763.0 527.5 L765.0 527.9 L767.0 528.2 L769.0 528.6 L771.0 528.9 L773.0 529.3 L775.0 529.6 L777.0 529.9 L779.0 530.2 L781.0 530.5 L783.0 530.8 L785.0 531.1 L787.0 531.4 L789.0 531.7 L791.0 532.0 L793.0 532.3 L795.0 532.6 L797.0 532.8 L799.0 533.1 L801.0 533.4 L803.0 533.7 L805.0 533.9 L807.0 534.2 L809.0 534.5 L811.0 534.8 L813.0 535.0 L815.0 535.3 L817.0 535.6 L819.0 535.9 L821.0 536.2 L823.0 536.5 L825.0 536.8 L827.0 537.1 L829.0 537.4 L831.0 537.7 L833.0 538.0 L835.0 538.4 L837.0 538.7 L839.0 539.0 L841.0 539.4 L843.0 539.7 L845.0 540.1 L847.0 540.4 L849.0 540.8 L851.0 541.1 L853.0 541.5 L855.0 541.8 L857.0 542.2 L859.0 542.5 L861.0 542.9 L863.0 543.2 L865.0 543.6 L867.0 543.9 L869.0 544.3 L871.0 544.6 L873.0 545.0 L875.0 545.3 L877.0 545.6 L879.0 545.9 L881.0 546.3 L883.0 546.6 L885.0 546.9 L887.0 547.2 L889.0 547.4 L891.0 547.7 L893.0 548.0 L895.0 548.3 L897.0 548.6 L899.0 548.8 L901.0 549.1 L903.0 549.3 L905.0 549.6 L907.0 549.9 L909.0 550.1 L911.0 550.3 L913.0 550.6 L915.0 550.8 L917.0 551.1 L919.0 551.3 L921.0 551.5 L923.0 551.8 L925.0 552.0 L927.0 552.2 L929.0 552.4 L931.0 552.7 L933.0 552.9 L935.0 553.1 L937.0 553.3 L939.0 553.5 L941.0 553.8 L943.0 554.0 L945.0 554.2 L947.0 554.4 L949.0 554.6 L951.0 554.8 L953.0 555.0 L955.0 555.2 L957.0 555.4 L959.0 555.6 L961.0 555.8 L963.0 556.0 L965.0 556.2 L967.0 556.3 L969.0 556.5 L971.0 556.7 L973.0 556.9 L975.0 557.1 L977.0 557.3 L979.0 557.4 L981.0 557.6 L983.0 557.8 L985.0 558.0 L987.0 558.1 L989.0 558.3 L991.0 558.5 L993.0 558.7 L995.0 558.8 L997.0 559.0 L999.0 559.2 L1001.0 559.3 L1003.0 559.5 L1005.0 559.6 L1007.0 559.8 L1009.0 560.0 L1011.0 560.1 L1013.0 560.3 L1015.0 560.4 L1017.0 560.6 L1019.0 560.7 L1021.0 560.9 L1023.0 561.0 L1025.0 561.2 L1027.0 561.3 L1029.0 561.5 L1031.0 561.6 L1033.0 561.7 L1035.0 561.9 L1037.0 562.0 L1039.0 562.2 L1041.0 562.3 L1043.0 562.4 L1045.0 562.6 L1047.0 562.7 L1049.0 562.8 L1051.0 562.9 L1053.0 563.1 L1055.0 563.2 L1057.0 563.3 L1059.0 563.5 L1061.0 563.6 L1063.0 563.8 L1065.0 563.9 L1067.0 564.1 L1069.0 564.2 L1071.0 564.4 L1073.0 564.6 L1075.0 564.8 L1077.0 565.0 L1079.0 565.1 L1081.0 565.3 L1083.0 565.5 L1085.0 565.7 L1087.0 565.9 L1089.0 566.1 L1091.0 566.3 L1093.0 566.5 L1095.0 566.7 L1097.0 566.9 L1099.0 567.1 L1101.0 567.3 L1103.0 567.5 L1105.0 567.7 L1107.0 567.9 L1109.0 568.1 L1111.0 568.2 L1113.0 568.4 L1115.0 568.5 L1117.0 568.7 L1119.0 568.8 L1121.0 569.0 L1123.0 569.1 L1125.0 569.2 L1127.0 569.3 L1129.0 569.5 L1131.0 569.6 L1133.0 569.7 L1135.0 569.8 L1137.0 569.9 L1139.0 570.0 L1141.0 570.1 L1143.0 570.2 L1145.0 570.3 L1147.0 570.4 L1149.0 570.4 L1151.0 570.5 L1153.0 570.6 L1155.0 570.7 L1157.0 570.8 L1159.0 570.9 L1161.0 571.0 L1163.0 571.1 L1165.0 571.2 L1167.0 571.4 L1169.0 571.5 L1171.0 571.6 L1173.0 571.7 L1175.0 571.8 L1177.0 572.0 L1179.0 572.1 L1181.0 572.3 L1183.0 572.5 L1185.0 572.7 L1187.0 572.9 L1189.0 573.2 L1191.0 573.4 L1193.0 573.7 L1195.0 574.1 L1197.0 574.4 L1199.0 574.8 L1201.0 575.1 L1203.0 575.5 L1205.0 575.9 L1207.0 576.4 L1209.0 576.8 L1211.0 577.1 L1213.0 577.5 L1215.0 577.9 L1217.0 578.2 L1219.0 578.5 L1221.0 578.8 L1223.0 579.1 L1225.0 579.4 L1227.0 579.6 L1229.0 579.8 L1231.0 580.0 L1233.0 580.1 L1235.0 580.3 L1237.0 580.4 L1239.0 580.5 L1241.0 580.7 L1243.0 580.8 L1245.0 580.9 L1247.0 581.0 L1249.0 581.1 L1251.0 581.2 L1253.0 581.3 L1255.0 581.4 L1257.0 581.5 L1259.0 581.6 L1261.0 581.7 L1263.0 581.8 L1265.0 581.9 L1267.0 582.0 L1269.0 582.1 L1271.0 582.2 L1273.0 582.3 L1275.0 582.4 L1277.0 582.5 L1279.0 582.6 L1281.0 582.7 L1283.0 582.8 L1285.0 582.9 L1287.0 583.0 L1289.0 583.1 L1291.0 583.2 L1293.0 583.3 L1295.0 583.4 L1297.0 583.5 L1299.0 583.6 L1301.0 583.7 L1303.0 583.8 L1305.0 584.0 L1307.0 584.1 L1309.0 584.2 L1311.0 584.3 L1313.0 584.4 L1315.0 584.5 L1317.0 584.6 L1319.0 584.7 L1321.0 584.8 L1323.0 584.9 L1325.0 585.0 L1327.0 585.0 L1329.0 585.1 L1331.0 585.2 L1333.0 585.3 L1335.0 585.4 L1337.0 585.4 L1339.0 585.5 L1341.0 585.5 L1343.0 585.6 L1345.0 585.6 L1347.0 585.7 L1349.0 585.7 L1351.0 585.7 L1353.0 585.8 L1355.0 585.8 L1357.0 585.8 L1359.0 585.8 L1361.0 585.8 L1363.0 585.8 L1365.0 585.8 L1367.0 585.8 L1369.0 585.8 L1371.0 585.8 L1373.0 585.8 L1375.0 585.8 L1377.0 585.7 L1379.0 585.7 L1380.0 585.7"/>
<path stroke="#ff0000" stroke-width="6" d="M249.0 714.6 L251.0 707.3 L253.0 695.6 L255.0 684.2 L257.0 674.0 L259.0 663.8 L261.0 652.8 L263.0 641.3 L265.0 629.7 L267.0 618.3 L269.0 607.0 L271.0 596.1 L273.0 585.8 L275.0 577.2 L277.0 570.5 L279.0 565.3 L281.0 561.4 L283.0 558.8 L285.0 557.5 L287.0 556.8 L289.0 556.4 L291.0 556.1 L293.0 555.9 L295.0 555.9 L297.0 555.8 L299.0 555.9 L301.0 556.0 L303.0 556.2 L305.0 556.5 L307.0 557.0 L309.0 557.5 L311.0 558.0 L313.0 558.5 L315.0 558.9 L317.0 559.2 L319.0 559.5 L321.0 559.7 L323.0 560.0 L325.0 560.2 L327.0 560.4 L329.0 560.6 L331.0 560.8 L333.0 560.9 L335.0 561.0 L337.0 561.1 L339.0 561.0 L341.0 560.9 L343.0 560.5 L345.0 560.0 L347.0 559.1 L349.0 557.9 L351.0 556.7 L353.0 555.4 L355.0 554.0 L357.0 552.5 L359.0 550.8 L361.0 548.9 L363.0 546.8 L365.0 544.6 L367.0 542.2 L369.0 539.7 L371.0 536.9 L373.0 533.7 L375.0 529.7 L377.0 524.8 L379.0 519.3 L381.0 514.1 L383.0 508.9 L385.0 503.9 L387.0 499.1 L389.0 494.4 L391.0 489.9 L393.0 486.1 L395.0 482.9 L397.0 480.2 L399.0 478.1 L401.0 476.7 L403.0 475.8 L405.0 475.3 L407.0 475.0 L409.0 474.9 L411.0 475.0 L413.0 475.1 L415.0 475.3 L417.0 475.7 L419.0 476.3 L421.0 477.2 L423.0 478.4 L425.0 480.1 L427.0 482.0 L429.0 484.2 L431.0 486.4 L433.0 488.7 L435.0 491.0 L437.0 493.3 L439.0 495.8 L441.0 498.4 L443.0 501.2 L445.0 504.3 L447.0 507.6 L449.0 511.0 L451.0 514.2 L453.0 517.4 L455.0 520.4 L457.0 523.4 L459.0 526.3 L461.0 529.0 L463.0 531.6 L465.0 534.1 L467.0 536.5 L469.0 538.8 L471.0 541.1 L473.0 543.3 L475.0 545.4 L477.0 547.5 L479.0 549.6 L481.0 551.6 L483.0 553.6 L485.0 555.7 L487.0 557.9 L489.0 560.1 L491.0 562.3 L493.0 564.4 L495.0 566.4 L497.0 568.3 L499.0 570.0 L501.0 571.6 L503.0 573.2 L505.0 574.7 L507.0 576.3 L509.0 577.9 L511.0 579.5 L513.0 581.1 L515.0 582.6 L517.0 584.1 L519.0 585.5 L521.0 587.0 L523.0 588.4 L525.0 589.8 L527.0 591.3 L529.0 592.7 L531.0 594.1 L533.0 595.6 L535.0 597.0 L537.0 598.5 L539.0 599.9 L541.0 601.3 L543.0 602.7 L545.0 604.1 L547.0 605.5 L549.0 606.8 L551.0 608.2 L553.0 609.5 L555.0 610.8 L557.0 612.1 L559.0 613.4 L561.0 614.6 L563.0 615.8 L565.0 617.0 L567.0 618.2 L569.0 619.3 L571.0 620.4 L573.0 621.5 L575.0 622.6 L577.0 623.6 L579.0 624.7 L581.0 625.7 L583.0 626.7 L585.0 627.6 L587.0 628.6 L589.0 629.5 L591.0 630.5 L593.0 631.4 L595.0 632.3 L597.0 633.2 L599.0 634.1 L601.0 635.1 L603.0 635.9 L605.0 636.8 L607.0 637.7 L609.0 638.6 L611.0 639.5 L613.0 640.3 L615.0 641.2 L617.0 642.0 L619.0 642.8 L621.0 643.6 L623.0 644.4 L625.0 645.2 L627.0 646.0 L629.0 646.7 L631.0 647.5 L633.0 648.2 L635.0 648.9 L637.0 649.6 L639.0 650.4 L641.0 651.1 L643.0 651.7 L645.0 652.4 L647.0 653.1 L649.0 653.8 L651.0 654.4 L653.0 655.1 L655.0 655.7 L657.0 656.3 L659.0 656.9 L661.0 657.5 L663.0 658.1 L665.0 658.7 L667.0 659.3 L669.0 659.9 L671.0 660.4 L673.0 661.0 L675.0 661.6 L677.0 662.1 L679.0 662.7 L681.0 663.2 L683.0 663.7 L685.0 664.3 L687.0 664.8 L689.0 665.3 L691.0 665.9 L693.0 666.4 L695.0 666.9 L697.0 667.4 L699.0 668.0 L701.0 668.5 L703.0 669.0 L705.0 669.5 L707.0 670.0 L709.0 670.6 L711.0 671.1 L713.0 671.6 L715.0 672.1 L717.0 672.6 L719.0 673.1 L721.0 673.6 L723.0 674.1 L725.0 674.6 L727.0 675.1 L729.0 675.5 L731.0 676.0 L733.0 676.5 L735.0 676.9 L737.0 677.4 L739.0 677.9 L741.0 678.3 L743.0 678.8 L745.0 679.2 L747.0 679.7 L749.0 680.1 L751.0 680.5 L753.0 681.0 L755.0 681.4 L757.0 681.8 L759.0 682.3 L761.0 682.7 L763.0 683.1 L765.0 683.5 L767.0 683.9 L769.0 684.3 L771.0 684.7 L773.0 685.1 L775.0 685.4 L777.0 685.8 L779.0 686.2 L781.0 686.5 L783.0 686.9 L785.0 687.2 L787.0 687.6 L789.0 687.9 L791.0 688.2 L793.0 688.5 L795.0 688.8 L797.0 689.1 L799.0 689.5 L801.0 689.7 L803.0 690.0 L805.0 690.3 L807.0 690.6 L809.0 690.9 L811.0 691.2 L813.0 691.5 L815.0 691.8 L817.0 692.0 L819.0 692.3 L821.0 692.6 L823.0 692.9 L825.0 693.2 L827.0 693.5 L829.0 693.8 L831.0 694.1 L833.0 694.3 L835.0 694.6 L837.0 694.9 L839.0 695.2 L841.0 695.5 L843.0 695.8 L845.0 696.1 L847.0 696.4 L849.0 696.7 L851.0 697.1 L853.0 697.4 L855.0 697.7 L857.0 698.0 L859.0 698.3 L861.0 698.6 L863.0 698.8 L865.0 699.1 L867.0 699.4 L869.0 699.7 L871.0 700.0 L873.0 700.3 L875.0 700.5 L877.0 700.8 L879.0 701.0 L881.0 701.3 L883.0 701.6 L885.0 701.8 L887.0 702.0 L889.0 702.3 L891.0 702.5 L893.0 702.7 L895.0 702.9 L897.0 703.1 L899.0 703.4 L901.0 703.6 L903.0 703.8 L905.0 704.0 L907.0 704.2 L909.0 704.4 L911.0 704.5 L913.0 704.7 L915.0 704.9 L917.0 705.1 L919.0 705.3 L921.0 705.5 L923.0 705.7 L925.0 705.9 L927.0 706.1 L929.0 706.3 L931.0 706.5 L933.0 706.7 L935.0 706.9 L937.0 707.1 L939.0 707.3 L941.0 707.5 L943.0 707.7 L945.0 707.9 L947.0 708.1 L949.0 708.3 L951.0 708.5 L953.0 708.7 L955.0 708.9 L957.0 709.1 L959.0 709.3 L961.0 709.5 L963.0 709.7 L965.0 709.9 L967.0 710.1 L969.0 710.3 L971.0 710.5 L973.0 710.7 L975.0 710.9 L977.0 711.1 L979.0 711.3 L981.0 711.5 L983.0 711.7 L985.0 711.8 L987.0 712.0 L989.0 712.2 L991.0 712.4 L993.0 712.5 L995.0 712.7 L997.0 712.9 L999.0 713.0 L1001.0 713.2 L1003.0 713.3 L1005.0 713.5 L1007.0 713.7 L1009.0 713.8 L1011.0 714.0 L1013.0 714.1 L1015.0 714.2 L1017.0 714.4 L1019.0 714.5 L1021.0 714.7 L1023.0 714.8 L1025.0 714.9 L1027.0 715.1 L1029.0 715.2 L1031.0 715.3 L1033.0 715.5 L1035.0 715.6 L1037.0 715.7 L1039.0 715.8 L1041.0 715.9 L1043.0 716.0 L1045.0 716.1 L1047.0 716.2 L1049.0 716.3 L1051.0 716.4 L1053.0 716.5 L1055.0 716.6 L1057.0 716.7 L1059.0 716.7 L1061.0 716.8 L1063.0 716.9 L1065.0 717.0 L1067.0 717.1 L1069.0 717.2 L1071.0 717.3 L1073.0 717.3 L1075.0 717.4 L1077.0 717.5 L1079.0 717.6 L1081.0 717.7 L1083.0 717.8 L1085.0 717.9 L1087.0 718.0 L1089.0 718.1 L1091.0 718.2 L1093.0 718.3 L1095.0 718.4 L1097.0 718.5 L1099.0 718.6 L1101.0 718.7 L1103.0 718.8 L1105.0 718.9 L1107.0 719.0 L1109.0 719.2 L1111.0 719.3 L1113.0 719.4 L1115.0 719.5 L1117.0 719.7 L1119.0 719.8 L1121.0 720.0 L1123.0 720.1 L1125.0 720.3 L1127.0 720.4 L1129.0 720.6 L1131.0 720.7 L1133.0 720.9 L1135.0 721.0 L1137.0 721.2 L1139.0 721.3 L1141.0 721.5 L1143.0 721.7 L1145.0 721.8 L1147.0 722.0 L1149.0 722.2 L1151.0 722.3 L1153.0 722.5 L1155.0 722.7 L1157.0 722.8 L1159.0 723.0 L1161.0 723.2 L1163.0 723.3 L1165.0 723.5 L1167.0 723.7 L1169.0 723.8 L1171.0 724.0 L1173.0 724.2 L1175.0 724.3 L1177.0 724.5 L1179.0 724.6 L1181.0 724.8 L1183.0 725.0 L1185.0 725.1 L1187.0 725.3 L1189.0 725.5 L1191.0 725.6 L1193.0 725.8 L1195.0 726.0 L1197.0 726.1 L1199.0 726.3 L1201.0 726.4 L1203.0 726.6 L1205.0 726.8 L1207.0 726.9 L1209.0 727.1 L1211.0 727.2 L1213.0 727.4 L1215.0 727.5 L1217.0 727.7 L1219.0 727.8 L1221.0 727.9 L1223.0 728.1 L1225.0 728.2 L1227.0 728.4 L1229.0 728.5 L1231.0 728.6 L1233.0 728.7 L1235.0 728.9 L1237.0 729.0 L1239.0 729.1 L1241.0 729.2 L1243.0 729.3 L1245.0 729.4 L1247.0 729.5 L1249.0 729.7 L1251.0 729.8 L1253.0 729.9 L1255.0 730.0 L1257.0 730.1 L1259.0 730.2 L1261.0 730.3 L1263.0 730.4 L1265.0 730.5 L1267.0 730.6 L1269.0 730.7 L1271.0 730.8 L1273.0 730.9 L1275.0 731.0 L1277.0 731.1 L1279.0 731.2 L1281.0 731.3 L1283.0 731.4 L1285.0 731.5 L1287.0 731.6 L1289.0 731.6 L1291.0 731.7 L1293.0 731.8 L1295.0 731.9 L1297.0 732.0 L1299.0 732.1 L1301.0 732.2 L1303.0 732.3 L1305.0 732.4 L1307.0 732.4 L1309.0 732.5 L1311.0 732.6 L1313.0 732.7 L1315.0 732.8 L1317.0 732.9 L1319.0 732.9 L1321.0 733.0 L1323.0 733.1 L1325.0 733.2 L1327.0 733.3 L1329.0 733.3 L1331.0 733.4 L1333.0 733.5 L1335.0 733.6 L1337.0 733.6 L1339.0 733.7 L1341.0 733.8 L1343.0 733.9 L1345.0 734.0 L1347.0 734.0 L1349.0 734.1 L1351.0 734.2 L1353.0 734.3 L1355.0 734.3 L1357.0 734.4 L1359.0 734.5 L1361.0 734.6 L1363.0 734.6 L1365.0 734.7 L1367.0 734.8 L1369.0 734.8 L1371.0 734.9 L1373.0 735.0 L1375.0 735.0 L1377.0 735.1 L1379.0 735.1 L1380.0 735.1"/>
<path stroke="#0000ff" stroke-width="6" d="M248.2 861.2 L250.2 859.5 L252.2 857.3 L254.2 855.0 L256.2 852.5 L258.2 849.8 L260.2 846.9 L262.2 844.0 L264.2 841.0 L266.2 837.8 L268.2 834.3 L270.2 830.4 L272.2 826.8 L274.2 823.8 L276.2 821.3 L278.2 819.3 L280.2 817.7 L282.2 816.5 L284.2 815.9 L286.2 815.6 L288.2 815.5 L290.2 815.6 L292.2 815.8 L294.2 816.0 L296.2 816.2 L298.2 816.5 L300.2 816.8 L302.2 817.1 L304.2 817.5 L306.2 817.8 L308.2 818.2 L310.2 818.6 L312.2 818.9 L314.2 819.3 L316.2 819.7 L318.2 820.1 L320.2 820.6 L322.2 821.0 L324.2 821.2 L326.2 821.3 L328.2 821.1 L330.2 820.8 L332.2 820.3 L334.2 819.7 L336.2 819.1 L338.2 818.3 L340.2 817.5 L342.2 816.6 L344.2 815.6 L346.2 814.6 L348.2 813.4 L350.2 812.1 L352.2 810.6 L354.2 808.4 L356.2 805.7 L358.2 803.2 L360.2 800.9 L362.2 798.6 L364.2 796.3 L366.2 793.9 L368.2 791.4 L370.2 788.7 L372.2 785.6 L374.2 782.2 L376.2 778.3 L378.2 774.2 L380.2 769.7 L382.2 765.0 L384.2 760.0 L386.2 754.7 L388.2 749.1 L390.2 743.1 L392.2 736.8 L394.2 730.4 L396.2 723.8 L398.2 717.1 L400.2 710.2 L402.2 703.3 L404.2 696.6 L406.2 690.2 L408.2 684.1 L410.2 678.1 L412.2 672.2 L414.2 666.3 L416.2 660.4 L418.2 654.4 L420.2 648.3 L422.2 642.3 L424.2 636.3 L426.2 630.4 L428.2 624.6 L430.2 619.0 L432.2 613.4 L434.2 607.7 L436.2 601.5 L438.2 595.1 L440.2 589.5 L442.2 585.0 L444.2 581.2 L446.2 577.7 L448.2 574.4 L450.2 571.3 L452.2 568.5 L454.2 565.9 L456.2 563.6 L458.2 561.4 L460.2 559.4 L462.2 557.6 L464.2 556.1 L466.2 554.8 L468.2 553.9 L470.2 553.1 L472.2 552.6 L474.2 552.2 L476.2 551.9 L478.2 551.7 L480.2 551.5 L482.2 551.4 L484.2 551.3 L486.2 551.3 L488.2 551.4 L490.2 551.4 L492.2 551.5 L494.2 551.7 L496.2 551.8 L498.2 552.0 L500.2 552.3 L502.2 552.6 L504.2 553.1 L506.2 553.6 L508.2 554.2 L510.2 554.8 L512.2 555.4 L514.2 556.1 L516.2 556.8 L518.2 557.5 L520.2 558.2 L522.2 559.0 L524.2 559.7 L526.2 560.5 L528.2 561.3 L530.2 562.1 L532.2 562.9 L534.2 563.7 L536.2 564.5 L538.2 565.3 L540.2 566.2 L542.2 567.0 L544.2 567.9 L546.2 568.7 L548.2 569.6 L550.2 570.5 L552.2 571.4 L554.2 572.3 L556.2 573.2 L558.2 574.1 L560.2 575.1 L562.2 576.0 L564.2 576.9 L566.2 577.9 L568.2 578.9 L570.2 579.8 L572.2 580.8 L574.2 581.8 L576.2 582.7 L578.2 583.7 L580.2 584.7 L582.2 585.6 L584.2 586.6 L586.2 587.5 L588.2 588.5 L590.2 589.4 L592.2 590.3 L594.2 591.3 L596.2 592.2 L598.2 593.2 L600.2 594.1 L602.2 595.1 L604.2 596.1 L606.2 597.0 L608.2 598.0 L610.2 599.0 L612.2 600.0 L614.2 601.0 L616.2 601.9 L618.2 602.9 L620.2 603.9 L622.2 604.8 L624.2 605.7 L626.2 606.6 L628.2 607.5 L630.2 608.3 L632.2 609.1 L634.2 609.9 L636.2 610.7 L638.2 611.5 L640.2 612.2 L642.2 612.9 L644.2 613.6 L646.2 614.3 L648.2 615.0 L650.2 615.7 L652.2 616.3 L654.2 617.0 L656.2 617.6 L658.2 618.3 L660.2 618.9 L662.2 619.5 L664.2 620.2 L666.2 620.8 L668.2 621.4 L670.2 622.0 L672.2 622.6 L674.2 623.2 L676.2 623.8 L678.2 624.4 L680.2 625.0 L682.2 625.6 L684.2 626.2 L686.2 626.8 L688.2 627.4 L690.2 628.0 L692.2 628.6 L694.2 629.2 L696.2 629.7 L698.2 630.3 L700.2 630.9 L702.2 631.5 L704.2 632.0 L706.2 632.6 L708.2 633.1 L710.2 633.6 L712.2 634.2 L714.2 634.7 L716.2 635.2 L718.2 635.7 L720.2 636.2 L722.2 636.7 L724.2 637.2 L726.2 637.7 L728.2 638.2 L730.2 638.7 L732.2 639.2 L734.2 639.7 L736.2 640.2 L738.2 640.7 L740.2 641.2 L742.2 641.6 L744.2 642.1 L746.2 642.6 L748.2 643.0 L750.2 643.5 L752.2 643.9 L754.2 644.3 L756.2 644.7 L758.2 645.1 L760.2 645.5 L762.2 645.9 L764.2 646.3 L766.2 646.6 L768.2 647.0 L770.2 647.4 L772.2 647.7 L774.2 648.1 L776.2 648.5 L778.2 648.8 L780.2 649.2 L782.2 649.6 L784.2 650.0 L786.2 650.3 L788.2 650.7 L790.2 651.1 L792.2 651.5 L794.2 651.9 L796.2 652.3 L798.2 652.8 L800.2 653.2 L802.2 653.6 L804.2 654.0 L806.2 654.4 L808.2 654.8 L810.2 655.2 L812.2 655.6 L814.2 656.0 L816.2 656.4 L818.2 656.8 L820.2 657.2 L822.2 657.6 L824.2 657.9 L826.2 658.3 L828.2 658.7 L830.2 659.0 L832.2 659.4 L834.2 659.7 L836.2 660.1 L838.2 660.4 L840.2 660.7 L842.2 661.1 L844.2 661.4 L846.2 661.7 L848.2 662.0 L850.2 662.3 L852.2 662.6 L854.2 662.9 L856.2 663.2 L858.2 663.5 L860.2 663.8 L862.2 664.1 L864.2 664.4 L866.2 664.7 L868.2 664.9 L870.2 665.2 L872.2 665.5 L874.2 665.8 L876.2 666.1 L878.2 666.4 L880.2 666.7 L882.2 667.0 L884.2 667.3 L886.2 667.6 L888.2 667.9 L890.2 668.2 L892.2 668.5 L894.2 668.8 L896.2 669.1 L898.2 669.4 L900.2 669.8 L902.2 670.1 L904.2 670.4 L906.2 670.7 L908.2 671.0 L910.2 671.3 L912.2 671.6 L914.2 671.9 L916.2 672.2 L918.2 672.5 L920.2 672.8 L922.2 673.0 L924.2 673.3 L926.2 673.6 L928.2 673.9 L930.2 674.1 L932.2 674.4 L934.2 674.7 L936.2 674.9 L938.2 675.2 L940.2 675.4 L942.2 675.6 L944.2 675.9 L946.2 676.1 L948.2 676.3 L950.2 676.5 L952.2 676.7 L954.2 677.0 L956.2 677.2 L958.2 677.4 L960.2 677.6 L962.2 677.8 L964.2 678.0 L966.2 678.2 L968.2 678.4 L970.2 678.6 L972.2 678.8 L974.2 679.0 L976.2 679.1 L978.2 679.3 L980.2 679.5 L982.2 679.7 L984.2 679.9 L986.2 680.1 L988.2 680.3 L990.2 680.5 L992.2 680.7 L994.2 680.9 L996.2 681.1 L998.2 681.3 L1000.2 681.5 L1002.2 681.7 L1004.2 681.9 L1006.2 682.1 L1008.2 682.3 L1010.2 682.5 L1012.2 682.7 L1014.2 682.9 L1016.2 683.1 L1018.2 683.3 L1020.2 683.5 L1022.2 683.7 L1024.2 683.9 L1026.2 684.1 L1028.2 684.3 L1030.2 684.4 L1032.2 684.6 L1034.2 684.8 L1036.2 685.0 L1038.2 685.2 L1040.2 685.4 L1042.2 685.5 L1044.2 685.7 L1046.2 685.9 L1048.2 686.1 L1050.2 686.2 L1052.2 686.4 L1054.2 686.5 L1056.2 686.7 L1058.2 686.8 L1060.2 687.0 L1062.2 687.1 L1064.2 687.2 L1066.2 687.3 L1068.2 687.4 L1070.2 687.5 L1072.2 687.6 L1074.2 687.7 L1076.2 687.8 L1078.2 687.9 L1080.2 687.9 L1082.2 688.0 L1084.2 688.0 L1086.2 688.1 L1088.2 688.2 L1090.2 688.2 L1092.2 688.3 L1094.2 688.3 L1096.2 688.4 L1098.2 688.4 L1100.2 688.5 L1102.2 688.6 L1104.2 688.7 L1106.2 688.8 L1108.2 688.9 L1110.2 689.0 L1112.2 689.1 L1114.2 689.3 L1116.2 689.5 L1118.2 689.7 L1120.2 689.9 L1122.2 690.1 L1124.2 690.3 L1126.2 690.6 L1128.2 690.8 L1130.2 691.0 L1132.2 691.3 L1134.2 691.5 L1136.2 691.7 L1138.2 691.8 L1140.2 692.0 L1142.2 692.1 L1144.2 692.3 L1146.2 692.4 L1148.2 692.5 L1150.2 692.6 L1152.2 692.6 L1154.2 692.7 L1156.2 692.7 L1158.2 692.7 L1160.2 692.7 L1162.2 692.7 L1164.2 692.7 L1166.2 692.7 L1168.2 692.6 L1170.2 692.5 L1172.2 692.4 L1174.2 692.3 L1176.2 692.1 L1178.2 691.9 L1180.2 691.7 L1182.2 691.4 L1184.2 691.1 L1186.2 690.8 L1188.2 690.4 L1190.2 690.0 L1192.2 689.5 L1194.2 689.1 L1196.2 688.7 L1198.2 688.2 L1200.2 687.8 L1202.2 687.4 L1204.2 687.0 L1206.2 686.6 L1208.2 686.3 L1210.2 686.0 L1212.2 685.8 L1214.2 685.6 L1216.2 685.5 L1218.2 685.4 L1220.2 685.3 L1222.2 685.2 L1224.2 685.2 L1226.2 685.2 L1228.2 685.2 L1230.2 685.3 L1232.2 685.3 L1234.2 685.4 L1236.2 685.5 L1238.2 685.5 L1240.2 685.6 L1242.2 685.8 L1244.2 685.9 L1246.2 686.0 L1248.2 686.1 L1250.2 686.3 L1252.2 686.4 L1254.2 686.5 L1256.2 686.7 L1258.2 686.9 L1260.2 687.0 L1262.2 687.2 L1264.2 687.3 L1266.2 687.5 L1268.2 687.7 L1270.2 687.8 L1272.2 688.0 L1274.2 688.2 L1276.2 688.3 L1278.2 688.5 L1280.2 688.7 L1282.2 688.8 L1284.2 689.0 L1286.2 689.2 L1288.2 689.3 L1290.2 689.5 L1292.2 689.6 L1294.2 689.8 L1296.2 689.9 L1298.2 690.0 L1300.2 690.2 L1302.2 690.3 L1304.2 690.5 L1306.2 690.6 L1308.2 690.7 L1310.2 690.8 L1312.2 691.0 L1314.2 691.1 L1316.2 691.2 L1318.2 691.3 L1320.2 691.4 L1322.2 691.6 L1324.2 691.7 L1326.2 691.8 L1328.2 691.9 L1330.2 692.0 L1332.2 692.1 L1334.2 692.3 L1336.2 692.4 L1338.2 692.5 L1340.2 692.6 L1342.2 692.7 L1344.2 692.9 L1346.2 693.0 L1348.2 693.1 L1350.2 693.3 L1352.2 693.4 L1354.2 693.5 L1356.2 693.7 L1358.2 693.8 L1360.2 694.0 L1362.2 694.1 L1364.2 694.3 L1366.2 694.4 L1368.2 694.6 L1370.2 694.7 L1372.2 694.8 L1374.2 694.9 L1376.2 695.1 L1378.2 695.2 L1379.7 695.2"/>
</g>
<g font-size="83" text-anchor="end" stroke="#fff" stroke-width="1.8"><text x="229.5" y="988.2">0</text><text x="232" y="839.9">10</text><text x="232" y="689.6">20</text><text x="232" y="539.2">30</text><text x="232" y="388.9">40</text><text x="232" y="238.6">50</text><text x="232" y="88.3">60</text></g>
<g font-size="83" text-anchor="middle" stroke="#fff" stroke-width="1.8"><text x="246.0" y="1046.0">300</text><text x="473.0" y="1046.0">400</text><text x="700.0" y="1046.0">500</text><text x="927.0" y="1046.0">600</text><text x="1154.0" y="1046.0">700</text><text x="1381.0" y="1046.0">800</text></g>
<text x="822.5" y="1134" stroke="#fff" stroke-width="1.8" font-size="80" text-anchor="middle" textLength="574" lengthAdjust="spacingAndGlyphs">Wavelength (nm)</text>
<text transform="translate(92 485.5) rotate(-90)" stroke="#fff" stroke-width="1.8" font-size="80" text-anchor="middle" textLength="525" lengthAdjust="spacingAndGlyphs">Reflectance (%)</text>
<rect x="647" y="95" width="710" height="265" fill="none" stroke="#dadada" stroke-width="5"/>
<g stroke-width="8">
<line x1="651" y1="131" x2="776" y2="131" stroke="#000"/>
<line x1="651" y1="196" x2="776" y2="196" stroke="#ff0000"/>
<line x1="651" y1="261" x2="776" y2="261" stroke="#0000ff"/>
</g>
<g font-size="50" stroke="#fff" stroke-width="0">
<text transform="translate(787 148.4) scale(0.93 1)" textLength="174.2" lengthAdjust="spacing">Bare Si</text>
<text transform="translate(787 213.3) scale(0.93 1)" textLength="607.5" lengthAdjust="spacing">NOA81 positive structure</text>
<text transform="translate(787 277.2) scale(0.93 1)" textLength="458.6" lengthAdjust="spacing">NOA81 planar film</text>
</g>
</svg>
</body></html>
